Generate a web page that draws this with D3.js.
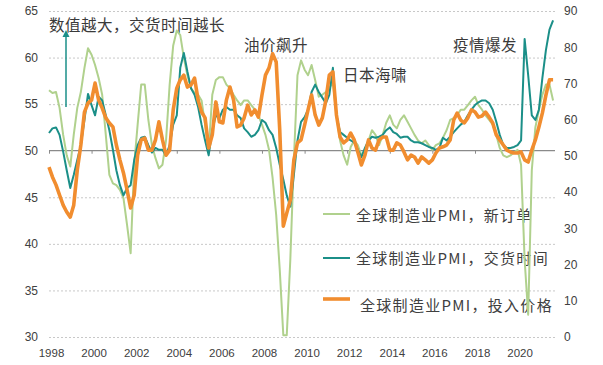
<!DOCTYPE html>
<html>
<head>
<meta charset="utf-8">
<script src="https://cdn.jsdelivr.net/npm/d3@7"></script>
<style>
  body { margin: 0; background: #fff; }
  svg text { font-family: "Liberation Sans", Arial, sans-serif; }
  .cn { font-family: "Noto Sans CJK SC", sans-serif; }
</style>
</head>
<body>
<div id="chart"></div>
<script>
// bi-monthly readings, Jan 1998 .. mid 2021
const startYear = 1998;
const stepMonths = 2;

// 全球制造业PMI，新订单 (left axis)
const newOrders = [
  56.5, 56.2, 56.3, 54.6, 51.7, 49.5, 48.3, 51.7, 54.6, 56.3, 58.9, 61.0,
  60.3, 59.2, 57.8, 56.0, 51.7, 47.4, 46.5, 46.3, 45.8, 44.9, 42.0, 39.0,
  48.5, 52.8, 57.1, 57.1, 53.3, 50.6, 49.2, 48.1, 48.5, 51.1, 57.1, 61.3,
  62.9, 62.4, 60.0, 58.1, 56.7, 56.2, 56.0, 55.4, 52.8, 50.1, 56.0, 57.6,
  57.9, 57.9, 57.1, 56.7, 56.0, 55.4, 54.9, 55.4, 55.4, 54.9, 54.4, 53.8,
  52.8, 51.7, 50.1, 47.1, 43.1, 37.2, 30.2, 30.2, 38.3, 49.0, 58.1, 59.7,
  58.7, 58.1, 59.2, 57.6, 55.8, 56.0, 56.3, 56.7, 57.4, 53.8, 51.1, 49.5,
  48.5, 50.4, 51.1, 50.6, 49.5, 50.1, 51.1, 52.2, 51.7, 50.6, 51.7, 53.0,
  53.8, 52.8, 52.4, 53.3, 53.8, 53.1, 52.4, 51.7, 51.1, 50.8, 51.1, 50.6,
  50.1, 50.6, 50.8, 51.4, 52.2, 53.3, 53.5, 53.8, 54.4, 54.4, 54.9, 55.4,
  55.8, 54.9, 54.4, 53.8, 53.3, 52.8, 51.7, 50.3, 49.5, 49.3, 49.5, 49.8,
  50.1, 48.5, 38.3, 32.4, 47.9, 52.5, 54.4, 56.0, 57.1, 57.1, 55.4
];

// 全球制造业PMI，交货时间 (left axis)
const deliveryTimes = [
  51.9, 52.4, 52.5, 51.7, 49.9, 47.9, 46.0, 47.4, 49.0, 50.6, 53.3, 56.1,
  54.9, 53.8, 55.8, 55.4, 53.8, 52.2, 50.1, 47.9, 46.3, 45.2, 46.0, 46.3,
  49.0, 50.6, 51.4, 51.5, 50.6, 49.8, 50.3, 50.1, 50.1, 49.5, 50.6, 52.8,
  53.8, 58.9, 60.5, 58.5, 56.7, 56.0, 54.7, 52.8, 51.1, 49.5, 52.2, 53.8,
  53.5, 54.4, 54.7, 54.4, 54.4, 53.8, 53.5, 52.4, 52.0, 51.5, 51.7, 52.2,
  53.3, 53.0, 52.2, 51.7, 50.3, 48.5, 46.9, 45.2, 44.0, 47.4, 51.1, 53.1,
  53.6, 54.4, 56.3, 57.1, 56.3, 55.7, 55.1, 56.0, 58.9, 53.8, 52.0, 51.7,
  51.4, 51.1, 50.9, 50.1, 49.3, 50.3, 51.1, 51.5, 51.4, 51.5, 51.7, 52.2,
  52.5, 52.0, 51.8, 51.4, 51.5, 51.5, 51.1, 50.9, 50.9, 50.8, 50.6, 50.4,
  50.3, 50.1, 50.3, 51.4, 51.1, 51.5, 52.0, 52.4, 52.8, 53.1, 53.8, 54.4,
  54.9, 55.2, 55.4, 55.4, 55.1, 54.4, 53.1, 51.7, 50.6, 50.3, 50.3, 50.4,
  50.6, 51.1, 62.0, 58.1, 53.8, 53.3, 54.4, 57.8, 60.8, 63.0, 64.0
];

// 全球制造业PMI，投入价格 (right axis)
const inputPrices = [
  46.9, 44.2, 42.0, 39.2, 36.4, 34.5, 33.1, 36.4, 46.1, 53.0, 62.1, 64.6,
  65.4, 70.1, 65.4, 63.2, 60.5, 59.1, 58.0, 53.0, 48.9, 45.3, 40.6, 35.6,
  39.2, 50.2, 54.4, 54.9, 51.6, 51.6, 54.4, 59.4, 54.4, 50.2, 51.6, 62.7,
  68.7, 71.0, 72.3, 69.0, 69.6, 71.5, 65.4, 62.1, 60.5, 52.2, 55.8, 64.9,
  59.4, 59.1, 65.4, 69.0, 65.4, 58.0, 58.5, 60.5, 64.0, 61.3, 62.7, 60.7,
  66.8, 72.3, 74.3, 78.2, 75.9, 57.1, 30.6, 34.2, 37.8, 48.9, 53.6, 54.4,
  58.5, 62.7, 66.8, 61.3, 58.5, 60.5, 65.4, 72.3, 73.2, 61.3, 55.2, 53.6,
  54.4, 56.3, 54.4, 51.1, 47.5, 50.2, 54.4, 52.2, 51.6, 54.4, 55.2, 55.2,
  51.6, 51.6, 53.6, 53.0, 51.1, 48.9, 50.2, 49.7, 48.0, 49.7, 48.9, 48.0,
  48.9, 50.8, 52.2, 52.5, 53.0, 54.4, 59.9, 61.8, 59.9, 59.1, 60.5, 62.7,
  62.1, 60.7, 61.0, 62.1, 60.7, 59.1, 55.8, 54.4, 53.0, 51.6, 51.1, 50.8,
  50.8, 51.1, 48.9, 48.3, 51.6, 54.4, 58.0, 61.8, 66.8, 71.0, 71.0
];

const leftTicks = [30, 35, 40, 45, 50, 55, 60, 65];
const rightTicks = [0, 10, 20, 30, 40, 50, 60, 70, 80, 90];
const seriesNames = ["全球制造业PMI，新订单", "全球制造业PMI，交货时间", "全球制造业PMI，投入价格"];
const seriesColors = ["#b0d18d", "#1b8f88", "#f18d2f"];
const seriesWidths = [2, 2, 3.6];
const notes = [
  { text: "数值越大，交货时间越长", x: 49, y: 31 },
  { text: "油价飙升", x: 244, y: 51 },
  { text: "日本海啸", x: 343, y: 81 },
  { text: "疫情爆发", x: 453, y: 51 }
];

const width = 603, height = 365;
const plotLeft = 49, plotRight = 555, plotTop = 11, plotBottom = 337;

const svg = d3.select("#chart").append("svg")
  .attr("width", width)
  .attr("height", height);

const dates = newOrders.map((_, k) => new Date(startYear, k * stepMonths, 1));

const x = d3.scaleTime()
  .domain([new Date(1998, 0, 1), new Date(2022, 0, 1)])
  .range([plotLeft, plotLeft + 24 * 21.3]);
const yL = d3.scaleLinear().domain([30, 65]).range([plotBottom, plotTop]);
const yR = d3.scaleLinear().domain([0, 90]).range([plotBottom, plotTop]);

// left axis + dashed grid
const gLeft = svg.append("g")
  .attr("transform", `translate(${plotLeft},0)`)
  .call(d3.axisLeft(yL).tickValues(leftTicks).tickSizeInner(-(plotRight - plotLeft)).tickSizeOuter(0).tickPadding(11));
gLeft.select(".domain").remove();
gLeft.selectAll(".tick line")
  .attr("stroke", d => d === 50 ? "none" : "#c8c8c8")
  .attr("stroke-dasharray", "2,2");
gLeft.selectAll(".tick text").attr("fill", "#404040").style("font-size", "12px");

// right axis
const gRight = svg.append("g")
  .attr("transform", `translate(${plotRight},0)`)
  .call(d3.axisRight(yR).tickValues(rightTicks).tickSize(0).tickPadding(9));
gRight.select(".domain").remove();
gRight.selectAll(".tick text").attr("fill", "#404040").style("font-size", "12px");

// year labels at the bottom
const gYears = svg.append("g")
  .attr("transform", `translate(2,${plotBottom})`)
  .call(d3.axisBottom(x).ticks(d3.timeYear.every(2)).tickFormat(d3.timeFormat("%Y")).tickSize(0).tickPadding(12));
gYears.select(".domain").remove();
gYears.selectAll(".tick").filter(d => d.getFullYear() > 2020).remove();
gYears.selectAll(".tick text").attr("fill", "#404040").style("font-size", "11.5px");

// 50 line with ticks
svg.append("line")
  .attr("x1", plotLeft).attr("x2", plotRight)
  .attr("y1", yL(50)).attr("y2", yL(50))
  .attr("stroke", "#8a8a8a").attr("stroke-width", 1.2);
const g50 = svg.append("g")
  .attr("transform", `translate(0,${yL(50)})`)
  .call(d3.axisBottom(x).ticks(d3.timeYear.every(2)).tickSizeInner(3).tickSizeOuter(0).tickFormat(""));
g50.select(".domain").remove();
g50.selectAll(".tick").filter(d => d.getFullYear() > 2021).remove();
g50.selectAll(".tick line").attr("stroke", "#8a8a8a");

// annotations
svg.selectAll(".note").data(notes).enter().append("text")
  .attr("class", "cn")
  .attr("x", d => d.x).attr("y", d => d.y)
  .attr("fill", "#3a3a3a")
  .style("font-size", "15.5px")
  .style("letter-spacing", "0.5px")
  .text(d => d.text);

// arrow
svg.append("line")
  .attr("x1", 66).attr("x2", 66).attr("y1", 107).attr("y2", 36)
  .attr("stroke", seriesColors[1]).attr("stroke-width", 1.5);
svg.append("path")
  .attr("d", "M62.5,37 L66,30 L69.5,37 Z")
  .attr("fill", seriesColors[1]);

// legend
const legendY = [214, 258, 299];
const legendTextX = [356, 356, 360];
const legendTextY = [221, 264, 311];
seriesNames.forEach((name, i) => {
  svg.append("line")
    .attr("x1", 323).attr("x2", 350)
    .attr("y1", legendY[i]).attr("y2", legendY[i])
    .attr("stroke", seriesColors[i]).attr("stroke-width", seriesWidths[i]);
  svg.append("text")
    .attr("class", "cn")
    .attr("x", legendTextX[i]).attr("y", legendTextY[i])
    .attr("fill", "#404040")
    .style("font-size", "15px")
    .style("letter-spacing", "1.3px")
    .text(name);
});

// lines
const lineL = d3.line().x((d, k) => x(dates[k])).y(d => yL(d));
const lineR = d3.line().x((d, k) => x(dates[k])).y(d => yR(d));

svg.append("path").datum(newOrders)
  .attr("d", lineL).attr("fill", "none")
  .attr("stroke", seriesColors[0]).attr("stroke-width", seriesWidths[0])
  .attr("stroke-linejoin", "round");
svg.append("path").datum(deliveryTimes)
  .attr("d", lineL).attr("fill", "none")
  .attr("stroke", seriesColors[1]).attr("stroke-width", seriesWidths[1])
  .attr("stroke-linejoin", "round");
svg.append("path").datum(inputPrices)
  .attr("d", lineR).attr("fill", "none")
  .attr("stroke", seriesColors[2]).attr("stroke-width", seriesWidths[2])
  .attr("stroke-linejoin", "round");
</script>
</body>
</html>
